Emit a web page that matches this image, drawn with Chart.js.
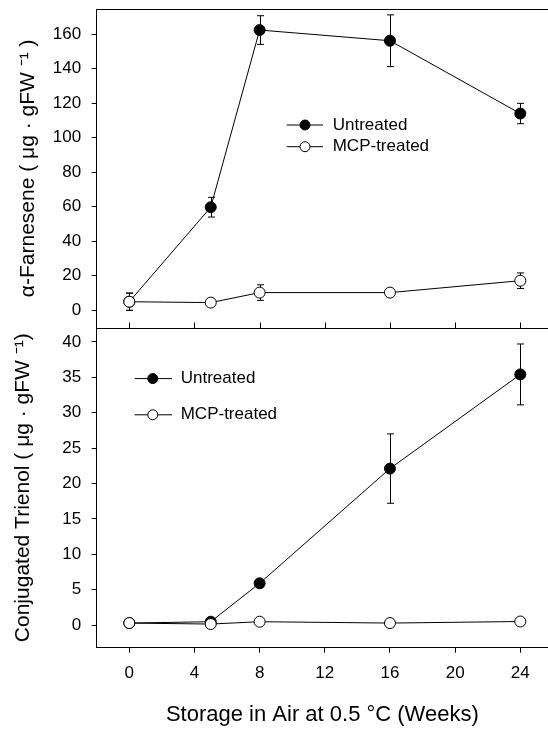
<!DOCTYPE html>
<html><head><meta charset="utf-8">
<script src="https://cdn.jsdelivr.net/npm/chart.js@4.4.1/dist/chart.umd.min.js"></script>
<style>
html,body{margin:0;padding:0;background:#fff;overflow:hidden;width:548px;height:730px}
#c1{position:absolute;left:0;top:0}
#c2{position:absolute;left:0;top:320px}
</style></head><body>
<canvas id="c1" width="548" height="330"></canvas>
<canvas id="c2" width="548" height="410"></canvas>
<script>
// ---- data ----
const weeks = [0, 5, 8, 16, 24];
const seriesLabels = ['Untreated', 'MCP-treated'];
const farneseneUntreated = [4.8, 59.6, 162.3, 156.1, 113.9];
const farneseneUntreatedErr = [5, 5.7, 8.3, 15, 5.9];
const farneseneMCP = [4.8, 4.3, 10.1, 10.1, 17.0];
const farneseneMCPErr = [5, 1, 4.5, 1.5, 4.5];
const trienolUntreated = [0.28, 0.47, 5.9, 22.1, 35.4];
const trienolUntreatedErr = [0.1, 0.2, 0.5, 4.9, 4.3];
const trienolMCP = [0.28, 0.14, 0.47, 0.28, 0.5];
const trienolMCPErr = [0.1, 0.1, 0.2, 0.1, 0.2];
const xTicks = [0, 4, 8, 12, 16, 20, 24];
const farneseneTicks = [0, 20, 40, 60, 80, 100, 120, 140, 160];
const trienolTicks = [0, 5, 10, 15, 20, 25, 30, 35, 40];
const farneseneTitle = 'α-Farnesene ( μg · gFW ⁻¹ )';
const trienolTitle = 'Conjugated Trienol ( μg · gFW ⁻¹)';
const xTitle = 'Storage in Air at 0.5 °C (Weeks)';

const FONT = '"Liberation Sans", Arial, Helvetica, sans-serif';
Chart.defaults.font.family = FONT;
Chart.defaults.color = '#000';

function pts(ys) { return weeks.map((w, i) => ({x: w, y: ys[i]})); }
function setTicks(arr) { return s => { s.ticks = arr.map(v => ({value: v})); }; }
function zeroPad(s) { s.paddingTop = 0; s.paddingBottom = 0; s.paddingLeft = 0; s.paddingRight = 0; }

function datasets(unt, untErr, mcp, mcpErr) {
  const base = {borderColor: '#000', borderWidth: 1, pointRadius: 5.5, pointHoverRadius: 5.5,
    pointBorderColor: '#000', pointBorderWidth: 1, tension: 0, fill: false};
  // MCP first so its open markers are drawn on top
  return [
    Object.assign({}, base, {label: seriesLabels[1], data: pts(mcp), errors: mcpErr, pointBackgroundColor: '#fff', legendIndex: 1}),
    Object.assign({}, base, {label: seriesLabels[0], data: pts(unt), errors: untErr, pointBackgroundColor: '#000', legendIndex: 0})
  ];
}

const panelPlugin = {
  id: 'panel',
  beforeDatasetsDraw(chart) {
    const ctx = chart.ctx, xs = chart.scales.x, ys = chart.scales.y;
    ctx.save(); ctx.strokeStyle = '#000'; ctx.lineWidth = 1;
    chart.data.datasets.forEach(ds => {
      (ds.errors || []).forEach((e, i) => {
        const p = ds.data[i];
        const x = Math.round(xs.getPixelForValue(p.x)) + 0.5;
        const y1 = ys.getPixelForValue(p.y - e), y2 = ys.getPixelForValue(p.y + e);
        ctx.beginPath();
        ctx.moveTo(x, y1); ctx.lineTo(x, y2);
        ctx.moveTo(x - 3.5, y1); ctx.lineTo(x + 3.5, y1);
        ctx.moveTo(x - 3.5, y2); ctx.lineTo(x + 3.5, y2);
        ctx.stroke();
      });
    });
    ctx.restore();
  },
  afterDraw(chart, args, opts) {
    const ctx = chart.ctx, a = chart.chartArea, xs = chart.scales.x;
    ctx.save(); ctx.strokeStyle = '#000'; ctx.lineWidth = 1;
    ctx.beginPath();
    if (opts.topLine) { const y = Math.round(a.top) + 0.5; ctx.moveTo(a.left, y); ctx.lineTo(a.right, y); }
    if (opts.bottomLine) {
      const y = Math.round(a.bottom) + 0.5; ctx.moveTo(a.left, y); ctx.lineTo(a.right, y);
      xTicks.forEach(v => { const x = Math.round(xs.getPixelForValue(v)) + 0.5; ctx.moveTo(x, y); ctx.lineTo(x, y - 6); });
    }
    ctx.stroke();
    // legend
    const L = opts.legend;
    const items = chart.data.datasets.slice().sort((p, q) => p.legendIndex - q.legendIndex);
    items.forEach((ds, i) => {
      const y = L.ys[i];
      ctx.beginPath(); ctx.moveTo(L.x0, y); ctx.lineTo(L.x1, y); ctx.stroke();
      ctx.beginPath(); ctx.arc(L.xm, y, 5, 0, Math.PI * 2);
      ctx.fillStyle = ds.pointBackgroundColor; ctx.fill(); ctx.stroke();
      ctx.fillStyle = '#000'; ctx.font = '17px ' + FONT;
      ctx.textBaseline = 'middle'; ctx.textAlign = 'left';
      ctx.fillText(ds.label, L.tx, y);
    });
    ctx.restore();
  }
};

function yAxis(min, max, ticksArr, title, titlePad) {
  return {
    type: 'linear', position: 'left', min: min, max: max,
    afterBuildTicks: setTicks(ticksArr),
    afterFit: s => { s.width = 96.7; zeroPad(s); },
    grid: {drawOnChartArea: false, drawTicks: true, tickLength: 5, color: '#000'},
    border: {display: true, color: '#000', width: 1},
    ticks: {font: {size: 17}, color: '#000', padding: 10.5},
    title: {display: true, text: title, font: {size: 21}, color: '#000', padding: {top: titlePad, bottom: 0}}
  };
}

new Chart(document.getElementById('c1'), {
  type: 'line',
  data: {datasets: datasets(farneseneUntreated, farneseneUntreatedErr, farneseneMCP, farneseneMCPErr)},
  options: {
    responsive: false, animation: false, events: [],
    layout: {autoPadding: false, padding: {top: 9, right: 0, bottom: 2.3, left: 0}},
    plugins: {legend: {display: false}, tooltip: {enabled: false},
      panel: {topLine: true, bottomLine: true, legend: {x0: 286.7, x1: 323, xm: 305, tx: 332.7, ys: [125, 146.7]}}},
    scales: {
      x: {type: 'linear', min: -2, max: 25.7, display: false, afterFit: s => { s.height = 0; zeroPad(s); }},
      y: yAxis(-10.25, 174.5, farneseneTicks, farneseneTitle, 16)
    }
  },
  plugins: [panelPlugin]
});

new Chart(document.getElementById('c2'), {
  type: 'line',
  data: {datasets: datasets(trienolUntreated, trienolUntreatedErr, trienolMCP, trienolMCPErr)},
  options: {
    responsive: false, animation: false, events: [],
    layout: {autoPadding: false, padding: {top: 7.7, right: 0, bottom: 0, left: 0}},
    plugins: {legend: {display: false}, tooltip: {enabled: false},
      panel: {topLine: false, bottomLine: false, legend: {x0: 134.6, x1: 172, xm: 152.8, tx: 180.7, ys: [58.6, 94.8]}}},
    scales: {
      x: {
        type: 'linear', position: 'bottom', min: -2, max: 25.7,
        afterBuildTicks: setTicks(xTicks),
        afterFit: s => { s.height = 82.3; zeroPad(s); },
        grid: {drawOnChartArea: false, drawTicks: true, tickLength: 5, color: '#000'},
        border: {display: true, color: '#000', width: 1},
        ticks: {font: {size: 17}, color: '#000', padding: 10, maxRotation: 0},
        title: {display: true, text: xTitle, font: {size: 22}, color: '#000', padding: {top: 0, bottom: 2}}
      },
      y: yAxis(-3.2, 42, trienolTicks, trienolTitle, 11)
    }
  },
  plugins: [panelPlugin]
});
</script>
</body></html>
